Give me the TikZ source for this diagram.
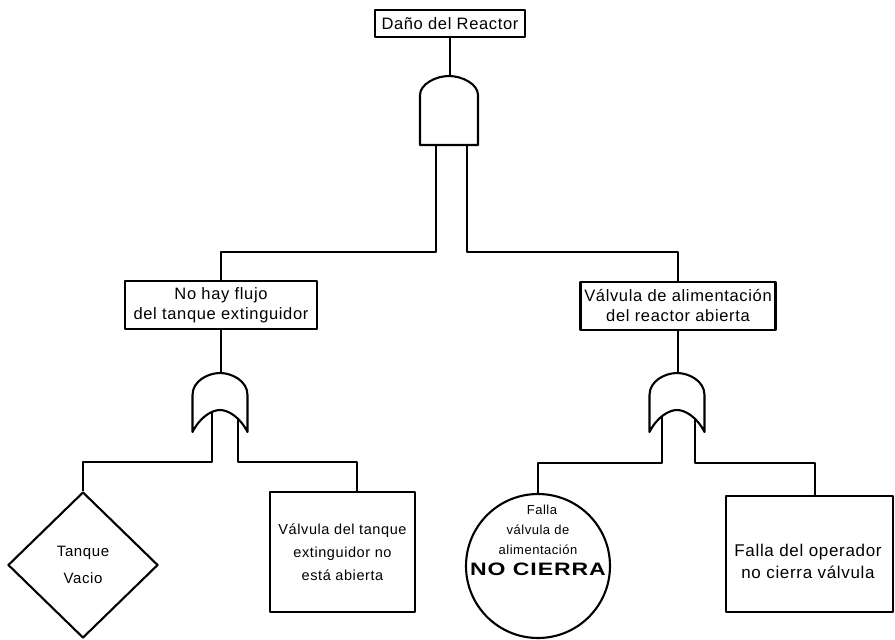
\documentclass[tikz,border=0pt]{standalone}
\usepackage{fontspec}
\usepackage{graphicx}
\setmainfont{Liberation Sans}[LetterSpace=4]
\usetikzlibrary{shapes.geometric}
\begin{document}
\begin{tikzpicture}[x=1pt,y=-1pt,line width=2.1pt,line join=round,
  evbox/.style={draw,rectangle,inner sep=0pt,align=center},
  topfont/.style={font=\fontsize{16.5}{19}\selectfont},
  midfont/.style={font=\fontsize{16.5}{20}\selectfont},
  lowfont/.style={font=\fontsize{14.5}{23}\selectfont},
  opfont/.style={font=\fontsize{17}{22}\selectfont},
  orgate/.pic={
    \draw (-27.5,22) .. controls (-27.5,8) and (-12,0) .. (0,0)
      .. controls (12,0) and (27.5,8) .. (27.5,22) -- (27.5,59)
      .. controls (20,44) and (8,37) .. (0,37)
      .. controls (-8,37) and (-20,44) .. (-27.5,59) -- cycle;
  }]
\useasboundingbox (0,0) rectangle (895,640);

% top event
\node[evbox,topfont,minimum width=150pt,minimum height=27pt] (top) at (450,23.5) {Daño del Reactor};

% AND gate
\coordinate (andTop) at (449,76);
\coordinate (andL) at (436,145);
\coordinate (andR) at (467,145);
\draw (420,145) -- (420,95) .. controls (420,84) and (436,76) .. (andTop)
  .. controls (462,76) and (478,84) .. (478,95) -- (478,145) -- cycle;
\draw (top.south) -- (top.south |- andTop);

% intermediate events
\node[evbox,midfont,minimum width=192pt,minimum height=48pt] (n1) at (221,305) {No hay flujo\\del tanque extinguidor};
\node[evbox,midfont,minimum width=195pt,minimum height=48pt] (n2) at (678,306) {Válvula de alimentación\\del reactor abierta};

\coordinate (bus) at (0,252);
\draw (andL) -- (andL |- bus) -| (n1.north);
\draw (andR) -- (andR |- bus) -| (n2.north);

% OR gates
\coordinate (g1top) at (220,373);
\coordinate (g2top) at (677,373);
\pic at (g1top) {orgate};
\pic at (g2top) {orgate};
\draw (n1.south) -- (n1.south |- g1top);
\draw (n2.south) -- (n2.south |- g2top);
\coordinate (g1L) at (212,412);
\coordinate (g1R) at (238,419);
\coordinate (g2L) at (662,416);
\coordinate (g2R) at (695,419);

% basic events
\node[draw,diamond,inner sep=0pt,minimum width=150pt,minimum height=146pt,align=center,font=\fontsize{15}{27}\selectfont] (d1) at (83,565) {Tanque\\Vacio};
\node[evbox,lowfont,minimum width=145pt,minimum height=120pt] (b3) at (342.5,552) {Válvula del tanque\\extinguidor no\\está abierta};
\node[draw,circle,inner sep=0pt,minimum size=144pt] (c1) at (538,566) {};
\node[align=center,inner sep=0pt,font=\fontsize{13}{20}\selectfont] (ct) at (538,540) {\hspace*{8pt}Falla\\válvula de\\alimentación\\[1pt]{\fontsize{18}{20}\selectfont\bfseries\scalebox{1.28}[1]{NO CIERRA}}};
\node[draw,rectangle,inner sep=0pt,minimum width=167pt,minimum height=116pt] (b4) at (809.5,554) {};
\node[align=center,inner sep=0pt,opfont] (b4t) at (808,561) {Falla del operador\\no cierra válvula};

\path (b3.north west) ++(88,0) coordinate (b3in);
\path (b4.north west) ++(90,0) coordinate (b4in);
\coordinate (bus2) at (0,462);
\coordinate (bus3) at (0,463);
\draw (g1L) -- (g1L |- bus2) -| (d1.north);
\draw (g1R) -- (g1R |- bus2) -| (b3in);
\draw (g2L) -- (g2L |- bus3) -| (c1.north);
\draw (g2R) -- (g2R |- bus3) -| (b4in);
\end{tikzpicture}
\end{document}
